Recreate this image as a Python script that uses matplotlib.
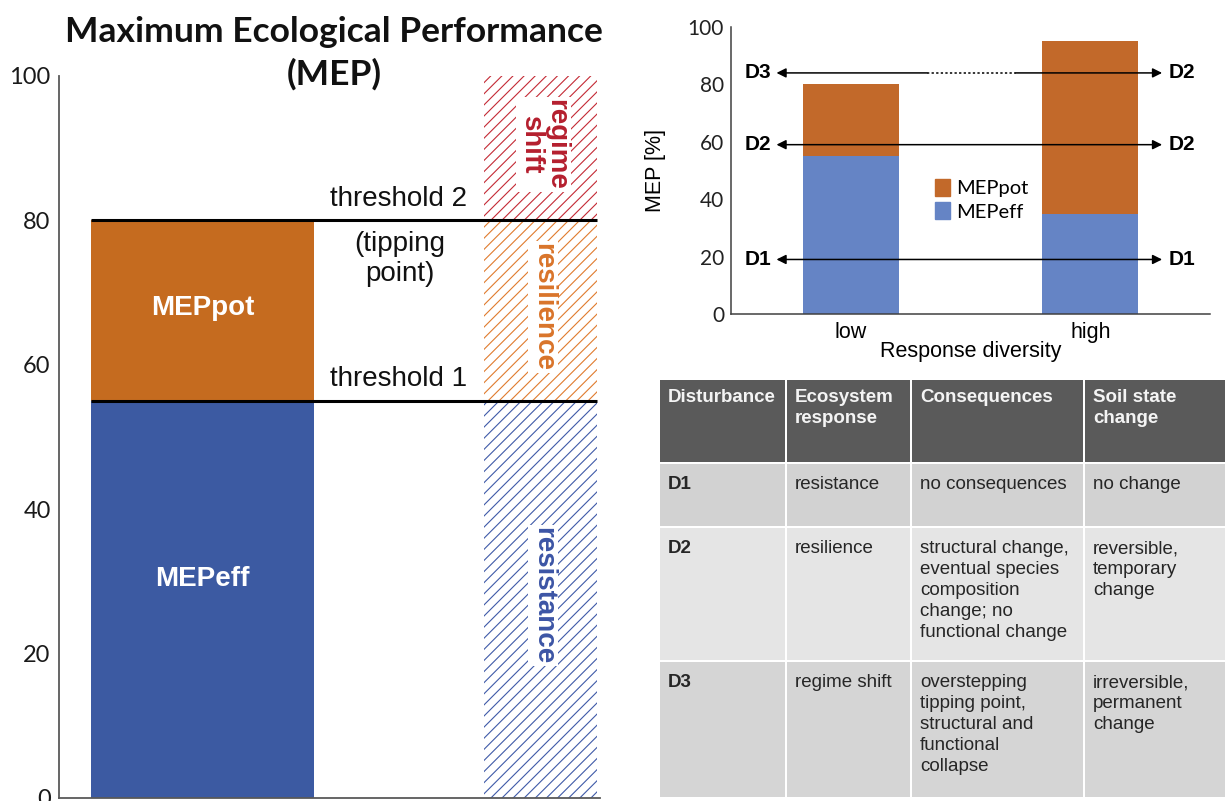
import matplotlib.pyplot as plt
from matplotlib.patches import Patch, Rectangle

W, H = 1226, 801
ARIAL = 'Liberation Sans'
CALIBRI = 'Lato'
plt.rcParams['hatch.linewidth'] = 0.8

# ---- left panel data: maximum ecological performance
mep_eff = 55
mep_pot = 80
zone_bottoms = [0, 55, 80]
zone_tops = [55, 80, 100]
zone_names = ['resistance', 'resilience', 'regime\nshift']
zone_label_y = [28, 68, 90.5]
zone_colors = ['#3F5AA8', '#E07B2E', '#C42A35']
zone_text_colors = ['#3C55A5', '#D9742A', '#B51F2E']
thresholds = [55, 80]

# ---- right panel data: response diversity
diversity = ['low', 'high']
eff_values = [55, 35]
pot_values = [25, 60]
dist_levels = [19, 59, 84]
dist_left = ['D1', 'D2', 'D3']
dist_right = ['D1', 'D2', 'D2']

# ---- table
col_headers = ['Disturbance', 'Ecosystem\nresponse', 'Consequences', 'Soil state\nchange']
rows = [
    ['D1', 'resistance', 'no consequences', 'no change'],
    ['D2', 'resilience', 'structural change,\neventual species\ncomposition\nchange; no\nfunctional change',
     'reversible,\ntemporary\nchange'],
    ['D3', 'regime shift', 'overstepping\ntipping point,\nstructural and\nfunctional\ncollapse',
     'irreversible,\npermanent\nchange'],
]
row_colors = ['#D2D2D2', '#E5E5E5', '#D5D5D5']

fig = plt.figure(figsize=(W / 100, H / 100), dpi=100)

# ================= left panel =================
ax1 = fig.add_axes([59 / W, 1 - 798 / H, (600 - 59) / W, (798 - 76) / H])
ax1.set_xlim(0, 10)
ax1.set_ylim(0, 100)
for s in ['top', 'right']:
    ax1.spines[s].set_visible(False)
for s in ['left', 'bottom']:
    ax1.spines[s].set_color('#595959')
    ax1.spines[s].set_linewidth(1.3)
ax1.set_xticks([])
ax1.set_yticks([0, 20, 40, 60, 80, 100])
ax1.tick_params(axis='y', length=0, pad=6, labelsize=17, labelcolor='#1a1a1a')
for lab in ax1.get_yticklabels():
    lab.set_fontfamily(CALIBRI)

bar_x, bar_w = 2.65, 4.12
ax1.bar(bar_x, mep_eff, bar_w, color='#3C5AA2', lw=0)
ax1.bar(bar_x, mep_pot - mep_eff, bar_w, bottom=mep_eff, color='#C56B1F', lw=0)
ax1.text(bar_x, 67.8, 'MEPpot', color='white', fontsize=20, fontweight='bold',
         family=ARIAL, ha='center', va='center')
ax1.text(bar_x, 30.3, 'MEPeff', color='white', fontsize=20, fontweight='bold',
         family=ARIAL, ha='center', va='center')

zone_x, zone_w = 8.9, 2.08
for b, t, c in zip(zone_bottoms, zone_tops, zone_colors):
    ax1.bar(zone_x, t - b, zone_w, bottom=b, facecolor='white', edgecolor=c,
            hatch='///', lw=0)
for name, y, c in zip(zone_names, zone_label_y, zone_text_colors):
    ax1.text(8.95, y, name, color=c, fontsize=20, fontweight='bold', family=ARIAL,
             rotation=270, ha='center', va='center', linespacing=0.95,
             bbox=dict(facecolor='white', edgecolor='none', pad=1.5))

ax1.hlines(thresholds, 0.59, 9.94, color='black', lw=2.2, zorder=3)
ax1.text(5.0, 81.2, 'threshold 2', fontsize=20, family=ARIAL, ha='left', va='bottom',
         color='#111111')
ax1.text(6.3, 74.6, '(tipping\npoint)', fontsize=20, family=ARIAL, ha='center',
         va='center', linespacing=1.2, color='#111111')
ax1.text(5.0, 56.2, 'threshold 1', fontsize=20, family=ARIAL, ha='left', va='bottom',
         color='#111111')

fig.text(334 / W, 1 - 53 / H, 'Maximum Ecological Performance\n(MEP)', ha='center',
         va='center', fontsize=25.5, fontweight='bold', family=CALIBRI, linespacing=1.36,
         color='#111111')

# ================= right panel =================
ax2 = fig.add_axes([731 / W, 1 - 314 / H, (1210 - 731) / W, (314 - 27) / H])
ax2.set_xlim(-0.5, 1.5)
ax2.set_ylim(0, 100)
for s in ['top', 'right']:
    ax2.spines[s].set_visible(False)
for s in ['left', 'bottom']:
    ax2.spines[s].set_color('#404040')
    ax2.spines[s].set_linewidth(1.1)
xpos = range(len(diversity))
ax2.bar(xpos, eff_values, 0.4, color='#6584C5', lw=0)
ax2.bar(xpos, pot_values, 0.4, bottom=eff_values, color='#C2692A', lw=0)
ax2.set_xticks(list(xpos), diversity)
ax2.set_yticks([0, 20, 40, 60, 80, 100])
ax2.tick_params(axis='x', length=0, pad=6, labelsize=15.5)
ax2.tick_params(axis='y', length=0, pad=5, labelsize=15, labelcolor='#222222')
for lab in ax2.get_xticklabels():
    lab.set_fontfamily(ARIAL)
for lab in ax2.get_yticklabels():
    lab.set_fontfamily(CALIBRI)
ax2.set_xlabel('Response diversity', fontsize=15.5, family=ARIAL)
ax2.set_ylabel('MEP [%]', fontsize=15.5, family=ARIAL)
ax2.xaxis.set_label_coords(0.5, -0.094)
ax2.yaxis.set_label_coords(-0.135, 0.5)

x_tip_l, x_tip_r = -0.31, 1.30
gap_l, gap_r = 0.318, 0.69
for y, ll, rl in zip(dist_levels, dist_left, dist_right):
    head = dict(color='black', lw=1.1, mutation_scale=14, shrinkA=0, shrinkB=0)
    if ll == rl:
        ax2.annotate('', xy=(x_tip_l, y), xytext=(x_tip_r, y),
                     arrowprops=dict(arrowstyle='<|-|>', **head), zorder=4)
    else:
        ax2.annotate('', xy=(x_tip_l, y), xytext=(gap_l, y),
                     arrowprops=dict(arrowstyle='-|>', **head), zorder=4)
        ax2.annotate('', xy=(x_tip_r, y), xytext=(gap_r, y),
                     arrowprops=dict(arrowstyle='-|>', **head), zorder=4)
        ax2.plot([gap_l, gap_r], [y, y], color='black', lw=1.1, ls=(0, (1.5, 1.5)))
    ax2.text(-0.33, y, ll, ha='right', va='center', fontsize=15, fontweight='bold',
             family=ARIAL)
    ax2.text(1.326, y, rl, ha='left', va='center', fontsize=15, fontweight='bold',
             family=ARIAL)

ax2.legend(handles=[Patch(color='#C2692A', label='MEPpot'),
                    Patch(color='#6584C5', label='MEPeff')],
           loc='upper left', bbox_to_anchor=(0.405, 0.505), frameon=False,
           borderpad=0, handlelength=0.75, handleheight=0.9, handletextpad=0.3,
           labelspacing=0.25, prop=dict(family=CALIBRI, size=14.5))

# ================= table =================
ax3 = fig.add_axes([659 / W, 1 - 798 / H, (1226 - 659) / W, (798 - 379) / H])
ax3.set_xlim(0, 567)
ax3.set_ylim(419, 0)
ax3.axis('off')
col_edges = [0, 127, 252, 425, 567]
row_edges = [0, 84, 148, 282, 419]

all_rows = [col_headers] + rows
fills = ['#5A5A5A'] + row_colors
for r, cells in enumerate(all_rows):
    top, bot = row_edges[r], row_edges[r + 1]
    for c, txt in enumerate(cells):
        left, right = col_edges[c], col_edges[c + 1]
        ax3.add_patch(Rectangle((left + 1, top + 1), right - left - 2, bot - top - 2,
                                facecolor=fills[r], edgecolor='none'))
        if r == 0:
            ax3.text(left + 9, top + 10, txt, color='#F4F4F4', fontsize=13.5,
                     fontweight='bold', family=ARIAL, va='top', ha='left',
                     linespacing=1.3)
        else:
            ax3.text(left + 9, top + 13, txt, color='#262626', fontsize=13.5,
                     fontweight='bold' if c == 0 else 'normal', family=ARIAL,
                     va='top', ha='left', linespacing=1.3)

fig.savefig('out.png', dpi=100)
